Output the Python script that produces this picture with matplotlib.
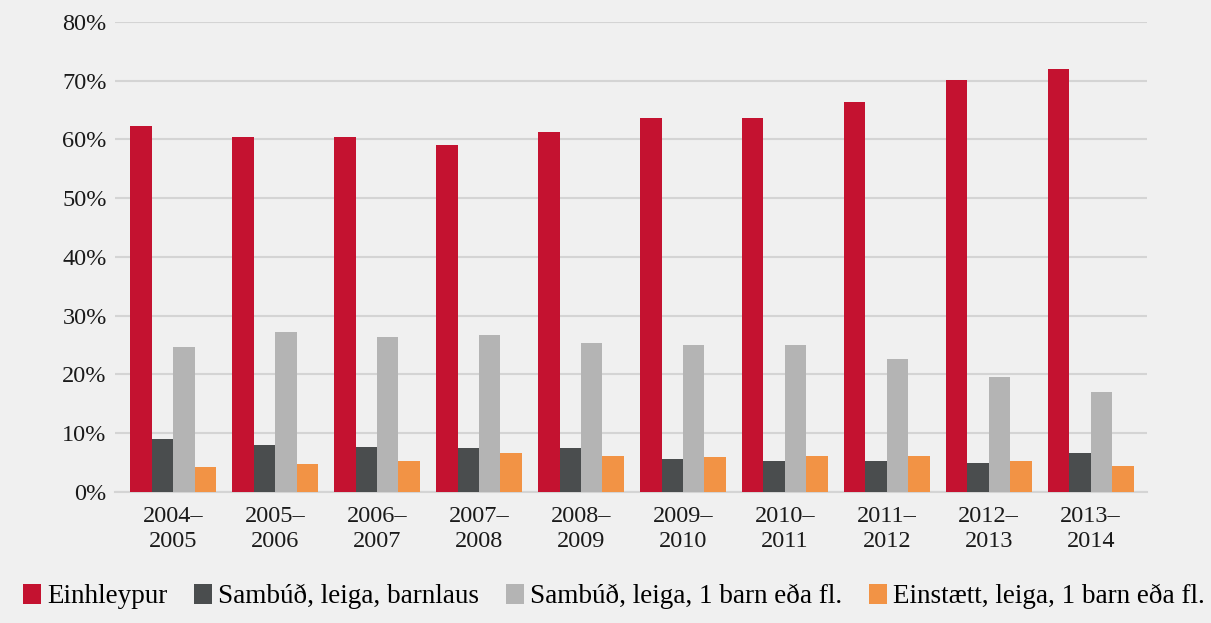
import matplotlib
matplotlib.use("Agg")
import matplotlib.pyplot as plt
import numpy as np

plt.rcParams["font.family"] = ["Liberation Serif", "DejaVu Serif"]

periods = ["2004–\n2005", "2005–\n2006", "2006–\n2007", "2007–\n2008", "2008–\n2009",
           "2009–\n2010", "2010–\n2011", "2011–\n2012", "2012–\n2013", "2013–\n2014"]
einhleypur = [62.3, 60.4, 60.4, 59.1, 61.3, 63.7, 63.7, 66.4, 70.1, 72.0]
sambud_barnlaus = [9.1, 8.0, 7.7, 7.5, 7.5, 5.6, 5.3, 5.3, 5.0, 6.7]
sambud_barn = [24.6, 27.2, 26.4, 26.7, 25.4, 25.1, 25.1, 22.7, 19.5, 17.0]
einstaett_barn = [4.3, 4.8, 5.3, 6.6, 6.1, 5.9, 6.1, 6.1, 5.3, 4.5]

series = [
    ("Einhleypur", einhleypur, "#c41230"),
    ("Sambúð, leiga, barnlaus", sambud_barnlaus, "#4a4d4e"),
    ("Sambúð, leiga, 1 barn eða fl.", sambud_barn, "#b4b4b4"),
    ("Einstætt, leiga, 1 barn eða fl.", einstaett_barn, "#f29345"),
]

bg = "#f0f0f0"
fig = plt.figure(figsize=(12.11, 6.23), dpi=100)
fig.patch.set_facecolor(bg)
ax = fig.add_axes([0.095, 0.2103, 0.852, 0.7544])
ax.set_facecolor(bg)

x = np.arange(len(periods))
w = 0.21
for i, (name, vals, col) in enumerate(series):
    ax.bar(x + (i - 1.5) * w, vals, width=w, color=col, label=name, zorder=3,
           edgecolor="none")

ax.set_xlim(-0.57, len(periods) - 0.45)
ax.set_ylim(0, 80)
ax.set_yticks(range(0, 81, 10))
ax.set_yticklabels([f"{v}%" for v in range(0, 81, 10)])
ax.set_xticks(x)
ax.set_xticklabels(periods, linespacing=1.25)
ax.grid(axis="y", color="#d4d4d4", linewidth=1.5, zorder=0)
ax.tick_params(axis="both", length=0, labelsize=17.5, colors="#1a1a1a")
ax.tick_params(axis="x", pad=10)
ax.tick_params(axis="y", pad=6)
for s in ["top", "right", "left"]:
    ax.spines[s].set_visible(False)
ax.spines["bottom"].set_color("#d4d4d4")
ax.spines["bottom"].set_linewidth(1.5)

# legend along the bottom edge
fig.legend(loc="lower left", bbox_to_anchor=(0.008, 0.0), ncol=4, frameon=False,
           fontsize=19.5, handlelength=0.66, handleheight=0.74, handletextpad=0.22,
           columnspacing=1.0, borderaxespad=0.1)

fig.savefig("out.png", dpi=100, facecolor=bg)
